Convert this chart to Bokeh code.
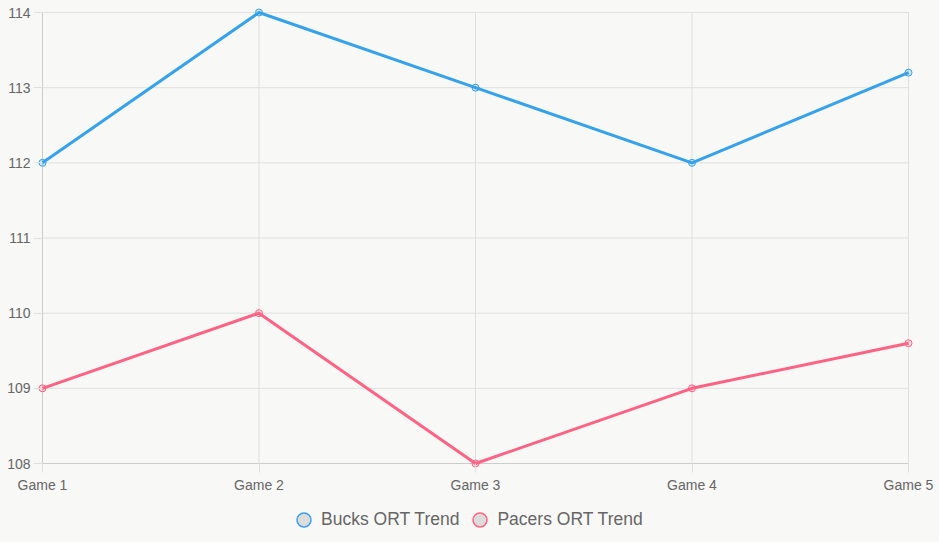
from bokeh.plotting import figure
from bokeh.models import Range1d, Legend, LegendItem, FixedTicker, ColumnDataSource
from bokeh.layouts import column
from bokeh.embed import file_html
from bokeh.resources import INLINE

games = ["Game 1", "Game 2", "Game 3", "Game 4", "Game 5"]
bucks = [112, 114, 113, 112, 113.2]
pacers = [109, 110, 108, 109, 109.6]
y_ticks = [108, 109, 110, 111, 112, 113, 114]

BLUE = "#36A2EB"
RED = "#FF6384"
BG = "#f8f8f6"
FONT = "Liberation Sans"
TXT = "#666666"
GRID = "#e0e0e0"
AXIS = "#cccccc"

x = list(range(len(games)))
x0, x1 = x[0], x[-1]
y0, y1 = y_ticks[0], y_ticks[-1]

# frame padded so markers at the edges are not clipped
FW, FH, PAD = 866, 451, 6
xpad = PAD * (x1 - x0) / FW
ypad = PAD * (y1 - y0) / FH

p = figure(width=939, height=500, output_backend="svg", toolbar_location=None,
           x_range=Range1d(x0 - xpad, x1 + xpad), y_range=Range1d(y0 - ypad, y1 + ypad),
           min_border_left=36, min_border_right=25, min_border_top=6, min_border_bottom=31)
p.background_fill_color = BG
p.border_fill_color = BG
p.outline_line_color = None
p.xgrid.visible = False
p.ygrid.visible = False

for ax in (p.xaxis[0], p.yaxis[0]):
    ax.axis_line_color = None
    ax.major_tick_line_color = GRID
    ax.major_tick_out = 3
    ax.major_tick_in = PAD
    ax.minor_tick_line_color = None
    ax.major_label_text_font = FONT
    ax.major_label_text_color = TXT
    ax.major_label_text_font_size = "14px"

p.xaxis[0].ticker = FixedTicker(ticks=x)
p.xaxis[0].major_label_overrides = {i: g for i, g in enumerate(games)}
p.xaxis[0].major_label_standoff = 4
p.yaxis[0].ticker = FixedTicker(ticks=y_ticks)
p.yaxis[0].major_label_standoff = 3

# grid lines
p.segment(x0=x[1:], y0=[y0] * (len(x) - 1), x1=x[1:], y1=[y1] * (len(x) - 1),
          line_color=GRID, line_width=1)
p.segment(x0=[x0] * (len(y_ticks) - 1), y0=y_ticks[1:], x1=[x1] * (len(y_ticks) - 1),
          y1=y_ticks[1:], line_color=GRID, line_width=1)
# axis lines
p.segment(x0=[x0, x0], y0=[y0, y0], x1=[x0, x1], y1=[y1, y0], line_color=AXIS, line_width=1)

p.line(x, bucks, line_color=BLUE, line_width=3)
p.scatter(x, bucks, size=7, fill_color=BLUE, fill_alpha=0.2, line_color=BLUE, line_width=1)
p.line(x, pacers, line_color=RED, line_width=3)
p.scatter(x, pacers, size=7, fill_color=RED, fill_alpha=0.2, line_color=RED, line_width=1)

# legend figure
lf = figure(width=939, height=42, output_backend="svg", toolbar_location=None,
            x_range=Range1d(0, 1), y_range=Range1d(0, 1),
            min_border_left=0, min_border_right=0, min_border_top=0, min_border_bottom=0)
lf.axis.visible = False
lf.grid.visible = False
lf.outline_line_color = None
lf.background_fill_color = BG
lf.border_fill_color = BG

# dummy point outside the visible range, only used for legend glyphs
hidden = ColumnDataSource(data=dict(x=[-10], y=[-10]))
lb = lf.scatter("x", "y", source=hidden, size=14, fill_color="#dcdcdc", line_color=BLUE, line_width=1.5)
lr = lf.scatter("x", "y", source=hidden, size=14, fill_color="#dcdcdc", line_color=RED, line_width=1.5)

legend = Legend(items=[LegendItem(label="Bucks ORT Trend", renderers=[lb]),
                       LegendItem(label="Pacers ORT Trend", renderers=[lr])],
                orientation="horizontal", location=(250, 5))
legend.background_fill_alpha = 0
legend.border_line_color = None
legend.label_text_font = FONT
legend.label_text_color = TXT
legend.label_text_font_size = "17.5px"
legend.glyph_width = 35
legend.glyph_height = 35
legend.spacing = 3
legend.label_standoff = 0
legend.padding = 2
legend.margin = 0
lf.add_layout(legend, "center")

layout = column(p, lf, spacing=0)
layout.styles = {"background-color": BG}
open("out.html", "w").write(file_html(layout, INLINE))
